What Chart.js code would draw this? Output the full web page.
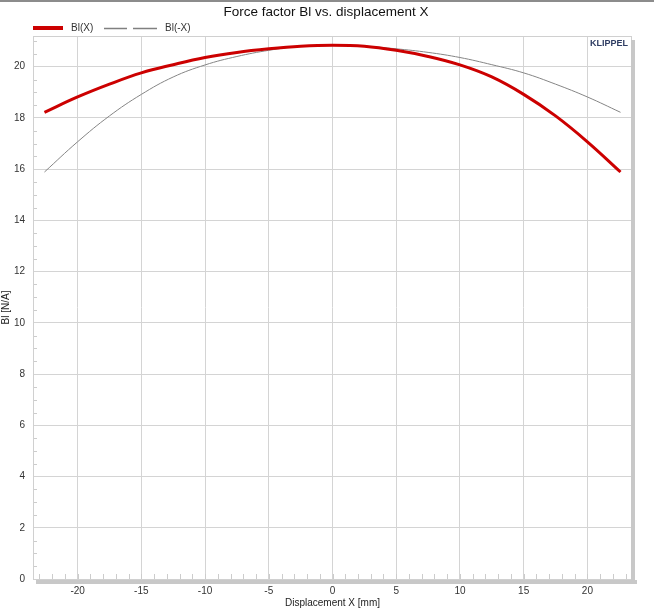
<!DOCTYPE html>
<html>
<head>
<meta charset="utf-8">
<script src="https://cdn.jsdelivr.net/npm/chart.js@4/dist/chart.umd.min.js"></script>
<style>
  html, body { margin: 0; padding: 0; background: #ffffff; }
  #wrap { position: relative; width: 654px; height: 612px; }
</style>
</head>
<body>
<div id="wrap"><canvas id="c" width="654" height="612"></canvas></div>
<script>
// ---- Data ----
const displacement = [-22.6, -20, -17.5, -15, -12.5, -10, -7.5, -5, -2.5, 0, 2.5, 5, 7.5, 10, 12.5, 15, 17.5, 20, 22.6];
const blX      = [18.22, 18.82, 19.32, 19.76, 20.08, 20.36, 20.56, 20.70, 20.80, 20.84, 20.80, 20.64, 20.40, 20.07, 19.60, 18.92, 18.08, 17.07, 15.89];
const blMinusX = [15.89, 17.07, 18.08, 18.92, 19.60, 20.07, 20.40, 20.64, 20.80, 20.84, 20.80, 20.70, 20.56, 20.36, 20.08, 19.76, 19.32, 18.82, 18.22];
const seriesNames = ["Bl(X)", "Bl(-X)"];
const xTickValues = [-20, -15, -10, -5, 0, 5, 10, 15, 20];
const yTickValues = [0, 2, 4, 6, 8, 10, 12, 14, 16, 18, 20];
const chartTitle = "Force factor Bl vs. displacement X";
const xTitle = "Displacement X [mm]";
const yTitle = "Bl [N/A]";
const brand = "KLIPPEL";

const FONT = "'Liberation Sans', Arial, sans-serif";
const toXY = (ys) => displacement.map((x, i) => ({ x: x, y: ys[i] }));

const decorPlugin = {
  id: 'decor',
  beforeDatasetsDraw(chart) {
    const ctx = chart.ctx;
    const a = chart.chartArea;
    const xs = chart.scales.x, ys = chart.scales.y;
    ctx.save();
    ctx.strokeStyle = '#cccccc';
    ctx.lineWidth = 1;
    // minor ticks on y axis (every 0.5)
    for (let v = 0; v <= 21.2; v += 0.5) {
      if (Math.abs(v / 2 - Math.round(v / 2)) < 1e-6) continue;
      const py = Math.round(ys.getPixelForValue(v)) + 0.5;
      ctx.beginPath(); ctx.moveTo(a.left, py); ctx.lineTo(a.left + 4, py); ctx.stroke();
    }
    // minor ticks on x axis (every 1)
    for (let v = -23; v <= 23; v += 1) {
      const px = Math.round(xs.getPixelForValue(v)) + 0.5;
      ctx.beginPath(); ctx.moveTo(px, a.bottom); ctx.lineTo(px, a.bottom - 5); ctx.stroke();
    }
    // plot border
    ctx.strokeStyle = '#d0d0d0';
    ctx.strokeRect(a.left + 0.5, a.top + 0.5, a.right - a.left - 1, a.bottom - a.top);
    ctx.restore();
  },
  afterDraw(chart) {
    const ctx = chart.ctx;
    const a = chart.chartArea;
    ctx.save();
    // top frame line
    ctx.fillStyle = '#8c8c8c';
    ctx.fillRect(0, 0, 654, 2);
    // shadow bars
    ctx.fillStyle = '#c8c8c8';
    ctx.fillRect(a.right - 1, a.top + 4, 4, a.bottom - a.top + 1);
    ctx.fillRect(a.left + 3, a.bottom + 1, a.right - a.left + 2, 4);
    // title
    ctx.fillStyle = '#111111';
    ctx.font = "13.5px " + FONT;
    ctx.textAlign = 'center';
    ctx.textBaseline = 'middle';
    ctx.fillText(chartTitle, 326, 12);
    // legend
    ctx.font = "10px " + FONT;
    ctx.textAlign = 'left';
    ctx.fillStyle = '#cc0000';
    ctx.fillRect(33, 26, 30, 4);
    ctx.fillStyle = '#333333';
    ctx.fillText(seriesNames[0], 71, 28.5);
    ctx.strokeStyle = '#808080';
    ctx.lineWidth = 1.5;
    ctx.beginPath();
    ctx.moveTo(104, 28.5); ctx.lineTo(127, 28.5);
    ctx.moveTo(133, 28.5); ctx.lineTo(157, 28.5);
    ctx.stroke();
    ctx.fillText(seriesNames[1], 165, 28.5);
    // brand
    ctx.font = "bold 9px " + FONT;
    ctx.textAlign = 'right';
    ctx.fillStyle = '#2f3d63';
    ctx.fillText(brand, 628, 44);
    ctx.restore();
  }
};

new Chart(document.getElementById('c'), {
  type: 'line',
  data: {
    datasets: [
      { label: seriesNames[0], data: toXY(blX), borderColor: '#cc0000', borderWidth: 3,
        pointRadius: 0, tension: 0.4, fill: false, order: 1 },
      { label: seriesNames[1], data: toXY(blMinusX), borderColor: '#858585', borderWidth: 1,
        pointRadius: 0, tension: 0.4, fill: false, order: 2 }
    ]
  },
  options: {
    responsive: false,
    animation: false,
    devicePixelRatio: 1,
    layout: { padding: { top: 36, right: 22, left: 0, bottom: 0 } },
    plugins: { legend: { display: false }, title: { display: false }, tooltip: { enabled: false } },
    scales: {
      x: {
        type: 'linear', min: -23.5, max: 23.5,
        afterFit: (s) => { s.height = 33; },
        afterBuildTicks: (s) => { s.ticks = xTickValues.map(v => ({ value: v })); },
        ticks: { includeBounds: false, padding: 6, color: '#333333', font: { family: FONT, size: 10 },
                 maxRotation: 0, autoSkip: false },
        grid: { color: '#d4d4d4', drawTicks: false },
        border: { display: false },
        title: { display: true, text: xTitle, color: '#222222', font: { family: FONT, size: 10 },
                 padding: { top: 0, bottom: 3 } }
      },
      y: {
        type: 'linear', min: 0, max: 21.2,
        afterFit: (s) => { s.width = 33; },
        afterBuildTicks: (s) => { s.ticks = yTickValues.map(v => ({ value: v })); },
        ticks: { includeBounds: false, padding: 8, color: '#333333', font: { family: FONT, size: 10 }, autoSkip: false },
        grid: { color: '#d4d4d4', drawTicks: false },
        border: { display: false },
        title: { display: true, text: yTitle, color: '#222222', font: { family: FONT, size: 10 },
                 padding: { top: 0, bottom: 0 } }
      }
    }
  },
  plugins: [decorPlugin]
});
</script>
</body>
</html>
